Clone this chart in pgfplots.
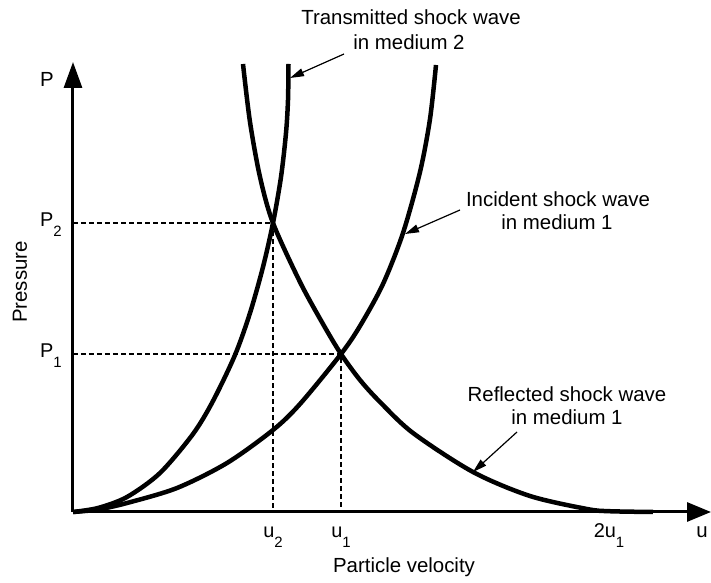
\documentclass[border=0pt]{standalone}
\usepackage{fontspec}
\setmainfont{Liberation Sans}
\usepackage{pgfplots}
\pgfplotsset{compat=1.18}
\usetikzlibrary{arrows.meta}
\newcommand{\sub}[1]{\raisebox{-10bp}{\fontsize{15}{15}\selectfont #1}}
\begin{document}
\fontsize{20.5}{24}\selectfont
\begin{tikzpicture}
\begin{axis}[
  x=1bp, y=1bp,
  xmin=0, xmax=638, ymin=0, ymax=450,
  axis lines=left,
  axis line style={line width=3bp},
  x axis line style={-{Triangle[length=24bp,width=19bp]}},
  y axis line style={-{Triangle[length=26bp,width=18bp]}},
  clip=false,
  xtick={200,268,536}, xticklabels={u\sub{2},u\sub{1},2u\sub{1}},
  ytick={158,289}, yticklabels={P\sub{1},P\sub{2}},
  major tick length=0pt,
  xticklabel style={font=\fontsize{20}{24}\selectfont, anchor=base, inner sep=0pt, yshift=-26bp},
  yticklabel style={font=\fontsize{20}{24}\selectfont, anchor=base east, inner sep=0pt, xshift=-11bp, yshift=-4bp},
]
% dashed guide lines
\addplot[line width=1.3bp, dash pattern=on 5bp off 3bp] coordinates {(0,289) (200,289) (200,0)};
\addplot[line width=1.3bp, dash pattern=on 5bp off 3bp] coordinates {(0,158) (268,158) (268,0)};
% transmitted shock wave in medium 2
\addplot[line width=4.5bp, smooth] coordinates {
 (0,0) (25,4) (54,15) (87,39) (120,78) (140,111) (162,157) (177,199) (190,245)
 (200,289) (208,335) (213,379) (215,412) (215.5,448)};
% incident shock wave in medium 1
\addplot[line width=4.5bp, smooth] coordinates {
 (0,0) (25,2.5) (54,9) (104,24) (154,49) (200,82) (227,108) (268,158) (287,186)
 (310,228) (330,279) (347,340) (357,393) (363,447)};
% reflected shock wave in medium 1
\addplot[line width=4.5bp, smooth] coordinates {
 (170,448) (177,390) (187,335) (200,289) (227,230) (250,188) (268,158)
 (287,132) (307,110) (340,79) (400,40) (457,16) (514,3) (536,0.8) (580,0)};
% annotations
\node[anchor=base] at (axis cs:338,487) {Transmitted shock wave};
\node[anchor=base] at (axis cs:336,462) {in medium 2};
\node[anchor=base] at (axis cs:485,305) {Incident shock wave};
\node[anchor=base] at (axis cs:484,282) {in medium 1};
\node[anchor=base] at (axis cs:494,110) {Reflected shock wave};
\node[anchor=base] at (axis cs:494,87) {in medium 1};
\draw[line width=1.2bp, -{Triangle[length=14bp,width=8bp]}] (axis cs:271,458) -- (axis cs:217,434);
\draw[line width=1.2bp, -{Triangle[length=14bp,width=8bp]}] (axis cs:387,302) -- (axis cs:332,278);
\draw[line width=1.2bp, -{Triangle[length=14bp,width=8bp]}] (axis cs:444,80) -- (axis cs:400,40);
% axis labels
\node[anchor=base] at (axis cs:-26,425) {P};
\node[anchor=base] at (axis cs:629,-26) {u};
\node[rotate=90] at (axis cs:-53,230) {Pressure};
\node at (axis cs:331,-55) {Particle velocity};
\coordinate (bl) at (axis cs:-73,-71);
\coordinate (tr) at (axis cs:638,512);
\end{axis}
\pgfresetboundingbox
\path[use as bounding box] (bl) rectangle (tr);
\end{tikzpicture}
\end{document}
